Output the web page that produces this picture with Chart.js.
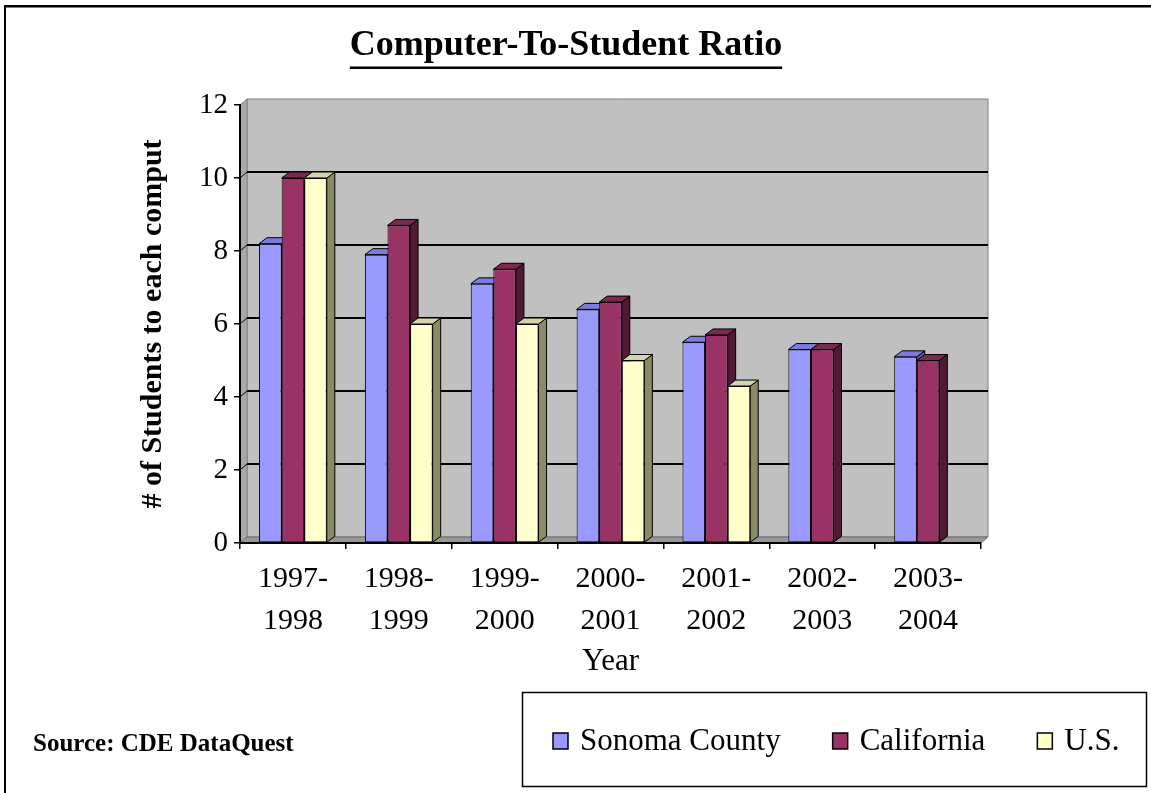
<!DOCTYPE html>
<html>
<head>
<meta charset="utf-8">
<title>Computer-To-Student Ratio</title>
<script src="https://cdn.jsdelivr.net/npm/chart.js@4.4.1/dist/chart.umd.min.js"></script>
<style>
  html, body { margin: 0; padding: 0; background: #fff; }
  #wrap { width: 1151px; height: 793px; }
  canvas { background: #fff; }
</style>
</head>
<body>
<div id="wrap"><canvas id="ratioChart" width="1151" height="793"></canvas></div>
<script>
// School years (two-line labels) and students per computer
const schoolYears = [
    ['1997-', '1998'], ['1998-', '1999'], ['1999-', '2000'], ['2000-', '2001'],
    ['2001-', '2002'], ['2002-', '2003'], ['2003-', '2004']
];
const sonomaCounty = [8.2, 7.9, 7.1, 6.4, 5.5, 5.3, 5.1];
const california = [10, 8.7, 7.5, 6.6, 5.7, 5.3, 5.0];
const unitedStates = [10, 6, 6, 5, 4.3, null, null];
const seriesNames = ['Sonoma County', 'California', 'U.S.'];
const yRange = { min: 0, max: 12, step: 2 };

const SERIF = "'Liberation Serif', 'Times New Roman', serif";
const BAR_DEPTH = { x: 8, y: -6 };
const WALL_DEPTH = { x: 7, y: -6 };

function poly(ctx, pts, fill, stroke) {
    ctx.beginPath();
    ctx.moveTo(pts[0][0], pts[0][1]);
    for (let i = 1; i < pts.length; i++) ctx.lineTo(pts[i][0], pts[i][1]);
    ctx.closePath();
    if (fill) { ctx.fillStyle = fill; ctx.fill(); }
    if (stroke) { ctx.strokeStyle = stroke; ctx.stroke(); }
}

// grey back wall, side wall and floor behind the bars
const wallPlugin = {
    id: 'wall3d',
    beforeDraw(chart) {
        const { ctx, chartArea: a, scales: { y } } = chart;
        const dx = WALL_DEPTH.x, dy = WALL_DEPTH.y;
        ctx.save();
        ctx.lineWidth = 1;
        // back wall
        poly(ctx, [[a.left + dx, a.top + dy], [a.right + dx, a.top + dy],
                   [a.right + dx, a.bottom + dy], [a.left + dx, a.bottom + dy]], '#c0c0c0', '#808080');
        // side wall
        poly(ctx, [[a.left, a.top], [a.left + dx, a.top + dy],
                   [a.left + dx, a.bottom + dy], [a.left, a.bottom]], '#a9a9a9', '#808080');
        // floor
        poly(ctx, [[a.left, a.bottom], [a.right, a.bottom],
                   [a.right + dx, a.bottom + dy], [a.left + dx, a.bottom + dy]], '#979797', '#6e6e6e');
        // gridlines on the back wall
        y.ticks.forEach(t => {
            if (t.value <= y.min || t.value >= y.max) return;
            const py = y.getPixelForValue(t.value);
            ctx.strokeStyle = '#000';
            ctx.lineWidth = 2;
            ctx.beginPath();
            ctx.moveTo(a.left + dx, py + dy);
            ctx.lineTo(a.right + dx, py + dy);
            ctx.stroke();
            ctx.lineWidth = 1;
            ctx.beginPath();
            ctx.moveTo(a.left, py);
            ctx.lineTo(a.left + dx, py + dy);
            ctx.stroke();
        });
        ctx.restore();
    }
};

// side and top faces of each bar, drawn before the front faces
const barDepthPlugin = {
    id: 'barDepth',
    beforeDatasetsDraw(chart) {
        const ctx = chart.ctx;
        const dx = BAR_DEPTH.x, dy = BAR_DEPTH.y;
        ctx.save();
        ctx.lineWidth = 1;
        chart.data.datasets.forEach((ds, di) => {
            const meta = chart.getDatasetMeta(di);
            meta.data.forEach((bar, i) => {
                if (ds.data[i] == null) return;
                const { x, y, base, width } = bar.getProps(['x', 'y', 'base', 'width'], true);
                const l = x - width / 2, r = x + width / 2;
                poly(ctx, [[r, y], [r + dx, y + dy], [r + dx, base + dy], [r, base]], ds.sideColor, '#000');
                poly(ctx, [[l, y], [l + dx, y + dy], [r + dx, y + dy], [r, y]], ds.topColor, '#000');
            });
        });
        ctx.restore();
    }
};

// title underline, legend box, source note and page frame
const decorPlugin = {
    id: 'decor',
    afterDraw(chart) {
        const ctx = chart.ctx;
        const tb = chart.titleBlock;
        ctx.save();

        // underline the title
        ctx.font = tb.options.font.weight + ' ' + tb.options.font.size + 'px ' + SERIF;
        const tw = ctx.measureText(tb.options.text).width;
        const cx = (tb.left + tb.right) / 2;
        ctx.fillStyle = '#000';
        ctx.fillRect(cx - tw / 2, 66.5, tw, 2.5);

        // legend
        ctx.strokeStyle = '#000';
        ctx.lineWidth = 1.5;
        ctx.strokeRect(522.5, 692.5, 624, 94);
        ctx.font = '31px ' + SERIF;
        ctx.textBaseline = 'middle';
        ctx.textAlign = 'left';
        const cy = 741;
        let x = 553;
        chart.data.datasets.forEach(ds => {
            ctx.fillStyle = ds.backgroundColor;
            ctx.fillRect(x, cy - 8, 15, 16);
            ctx.lineWidth = 1.5;
            ctx.strokeRect(x, cy - 8, 15, 16);
            ctx.fillStyle = '#000';
            ctx.fillText(ds.label, x + 27, cy + 1);
            x += 27 + ctx.measureText(ds.label).width + 52;
        });

        // source note
        ctx.font = 'bold 25px ' + SERIF;
        ctx.textBaseline = 'alphabetic';
        ctx.fillText('Source: CDE DataQuest', 33, 751);

        // frame edges
        ctx.fillRect(4, 5, chart.width, 2.5);
        ctx.fillRect(4, 5, 2, chart.height);
        ctx.restore();
    }
};

const ctx = document.getElementById('ratioChart').getContext('2d');
new Chart(ctx, {
    type: 'bar',
    data: {
        labels: schoolYears,
        datasets: [{
            label: seriesNames[0],
            data: sonomaCounty,
            backgroundColor: '#9999ff',
            topColor: '#7c7cdc',
            sideColor: '#5e5ea8'
        }, {
            label: seriesNames[1],
            data: california,
            backgroundColor: '#993366',
            topColor: '#7a2950',
            sideColor: '#4e1a36'
        }, {
            label: seriesNames[2],
            data: unitedStates,
            backgroundColor: '#ffffcc',
            topColor: '#d4d4a8',
            sideColor: '#8a8a66'
        }].map(ds => Object.assign(ds, {
            yAxisID: 'y',
            borderColor: '#000',
            borderWidth: 1,
            borderSkipped: false,
            categoryPercentage: 0.64,
            barPercentage: 1.0
        }))
    },
    options: {
        responsive: false,
        animation: false,
        layout: { padding: { top: 0, left: 0, right: 19, bottom: 105 } },
        plugins: {
            legend: { display: false },
            tooltip: { enabled: false },
            title: {
                display: true,
                text: 'Computer-To-Student Ratio',
                color: '#000',
                font: { family: SERIF, size: 36, weight: 'bold', lineHeight: 1.2 },
                padding: { top: 24.5, bottom: 37.3 }
            }
        },
        scales: {
            x: {
                grid: { drawOnChartArea: false, drawTicks: true, tickLength: 6, color: '#000', lineWidth: 1.5 },
                border: { display: true, color: '#000', width: 2 },
                ticks: {
                    color: '#000',
                    padding: 9,
                    maxRotation: 0,
                    autoSkip: false,
                    font: { family: SERIF, size: 30, lineHeight: 1.4 }
                },
                title: {
                    display: true,
                    text: 'Year',
                    color: '#000',
                    font: { family: SERIF, size: 31, lineHeight: 1.2 },
                    padding: { top: 0, bottom: 8 }
                },
                afterFit(scale) { scale.height = 145; }
            },
            y: {
                min: yRange.min,
                max: yRange.max,
                ticks: {
                    stepSize: yRange.step,
                    color: '#000',
                    padding: 6,
                    font: { family: SERIF, size: 29 }
                },
                grid: { drawOnChartArea: false, drawTicks: true, tickLength: 6, color: '#000', lineWidth: 1.5 },
                border: { display: true, color: '#000', width: 2 },
                title: {
                    display: true,
                    text: '# of Students to each comput',
                    color: '#000',
                    font: { family: SERIF, size: 30, weight: 'bold', lineHeight: 1.2 },
                    padding: { top: 135, bottom: 0 }
                },
                afterFit(scale) { scale.width = 240; }
            },
            y2: {
                position: 'right',
                display: true,
                grid: { display: false, drawTicks: false },
                border: { display: false },
                ticks: { display: false },
                afterFit(scale) { scale.width = 151; }
            }
        }
    },
    plugins: [wallPlugin, barDepthPlugin, decorPlugin]
});
</script>
</body>
</html>
